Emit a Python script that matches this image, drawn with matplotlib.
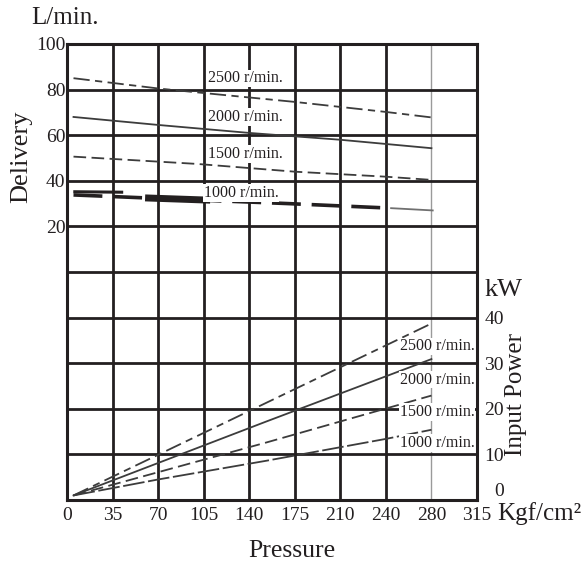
import matplotlib
matplotlib.use('Agg')
import matplotlib.pyplot as plt

plt.rcParams['font.family'] = ['Liberation Serif', 'DejaVu Serif']

INK = '#231f20'
LINE = '#3c3c3c'

# pressure ticks (kgf/cm2) and their printed labels
pressure_ticks = [0, 35, 70, 105, 140, 175, 210, 245, 280, 315]
pressure_labels = ['0', '35', '70', '105', '140', '175', '210', '240', '280', '315']

# delivery (L/min) vs pressure
del_2500_p = [5, 70, 105, 175, 245, 280]
del_2500_q = [85, 80.5, 78.5, 74.6, 70.2, 67.8]
del_2000_p = [5, 70, 140, 210, 280]
del_2000_q = [68, 64.5, 61, 58, 54.3]
del_1500_p = [5, 100, 175, 245, 280]
del_1500_q = [50.6, 47.4, 44, 41.8, 40.4]
del_1000_p = [5, 60, 170, 245]
del_1000_q = [33.8, 32.5, 30.0, 28.1]
del_1000_bold_p = [60, 110]
del_1000_bold_q = [32.5, 31.5]
del_1000_twin_p = [6, 42]
del_1000_twin_q = [35.2, 35.0]
del_1000_tail_p = [249, 281]
del_1000_tail_q = [28.0, 27.0]

# input power (kW) vs pressure
pow_2500_p = [5, 153, 280]
pow_2500_kw = [1, 21.3, 38.7]
pow_2000_p = [5, 153, 280]
pow_2000_kw = [1, 17.2, 30.9]
pow_1500_p = [5, 153, 280]
pow_1500_kw = [1, 12.6, 22.9]
pow_1000_p = [5, 70, 153, 245, 280]
pow_1000_kw = [1, 4.5, 8.6, 13.4, 15.4]

speed_labels = ['2500 r/min.', '2000 r/min.', '1500 r/min.', '1000 r/min.']
del_label_pos = [(108, 85), (108, 68), (108, 51.8), (105, 34.6)]
pow_label_pos = [(313, 33.7), (313, 26.4), (313, 19.3), (313, 12.5)]


def px(x, y):
    return x / 588, 1 - y / 568


fig = plt.figure(figsize=(5.88, 5.68), dpi=100)
ax = fig.add_axes([67 / 588, 68 / 568, 410 / 588, 456 / 568])

ax.set_xlim(0, 315)
ax.set_ylim(-100, 100)
ax.set_xticks(pressure_ticks)
ax.set_xticklabels(pressure_labels)
ax.set_yticks(range(-100, 101, 20))
ax.set_yticklabels(['' if v < 20 else str(v) for v in range(-100, 101, 20)])
ax.tick_params(length=0, labelsize=14, colors=INK)
ax.tick_params(axis='x', pad=5)
ax.tick_params(axis='y', pad=1)
ax.grid(True, color=INK, linewidth=2.0)
ax.get_xgridlines()[8].set_color('#9a9a9a')
ax.get_xgridlines()[8].set_linewidth(1.0)
for s in ax.spines.values():
    s.set_linewidth(2.2)
    s.set_color(INK)

# delivery curves
ax.plot(del_2500_p, del_2500_q, color=LINE, lw=1.3, linestyle=(0, (9, 3, 4, 3)))
ax.plot(del_2000_p, del_2000_q, color=LINE, lw=1.3)
ax.plot(del_1500_p, del_1500_q, color=LINE, lw=1.3, linestyle=(0, (7, 3)))
ax.plot(del_1000_p, del_1000_q, color=INK, lw=2.6, linestyle=(0, (8, 3)))
ax.plot(del_1000_bold_p, del_1000_bold_q, color=INK, lw=5, solid_capstyle='butt')
ax.plot(del_1000_twin_p, del_1000_twin_q, color=INK, lw=2.2)
ax.plot(del_1000_tail_p, del_1000_tail_q, color='#707070', lw=1.3)

for txt, (x, y) in zip(speed_labels, del_label_pos):
    ax.text(x, y, txt, fontsize=11.5, color=INK, ha='left', va='center',
            bbox=dict(facecolor='white', edgecolor='none', pad=0.5), zorder=4)

ax2 = ax.twinx()
ax2.set_ylim(0, 100)
ax2.set_yticks([0, 10, 20, 30, 40])
ax2.tick_params(length=0, labelsize=14, colors=INK, pad=19.4)
for lab in ax2.get_yticklabels():
    lab.set_horizontalalignment('right')
ax2.get_yticklabels()[0].set_verticalalignment('bottom')
for s in ax2.spines.values():
    s.set_visible(False)

ax2.plot(pow_2500_p, pow_2500_kw, color=LINE, lw=1.3, linestyle=(0, (9, 3, 4, 3)))
ax2.plot(pow_2000_p, pow_2000_kw, color=LINE, lw=1.3)
ax2.plot(pow_1500_p, pow_1500_kw, color=LINE, lw=1.3, linestyle=(0, (7, 3)))
ax2.plot(pow_1000_p, pow_1000_kw, color=LINE, lw=1.3, linestyle=(0, (12, 2)))

for txt, (x, y) in zip(speed_labels, pow_label_pos):
    ax2.text(x, y, txt, fontsize=11.5, color=INK, ha='right', va='center',
             bbox=dict(facecolor='white', edgecolor='none', pad=0.5), zorder=4)

fig.text(*px(65, 18), 'L/min.', fontsize=18, color=INK, ha='center', va='center')
fig.text(*px(21.5, 157), 'Delivery', fontsize=19, color=INK, rotation=90,
         ha='center', va='center')
fig.text(*px(504, 290), 'kW', fontsize=19, color=INK, ha='center', va='center')
fig.text(*px(516, 394), 'Input Power', fontsize=18, color=INK, rotation=90,
         ha='center', va='center')
fig.text(*px(497, 514), 'Kgf/cm²', fontsize=18, color=INK, ha='left', va='center')
fig.text(*px(292, 551), 'Pressure', fontsize=18.5, color=INK, ha='center', va='center')

fig.savefig('out.png', dpi=100)
